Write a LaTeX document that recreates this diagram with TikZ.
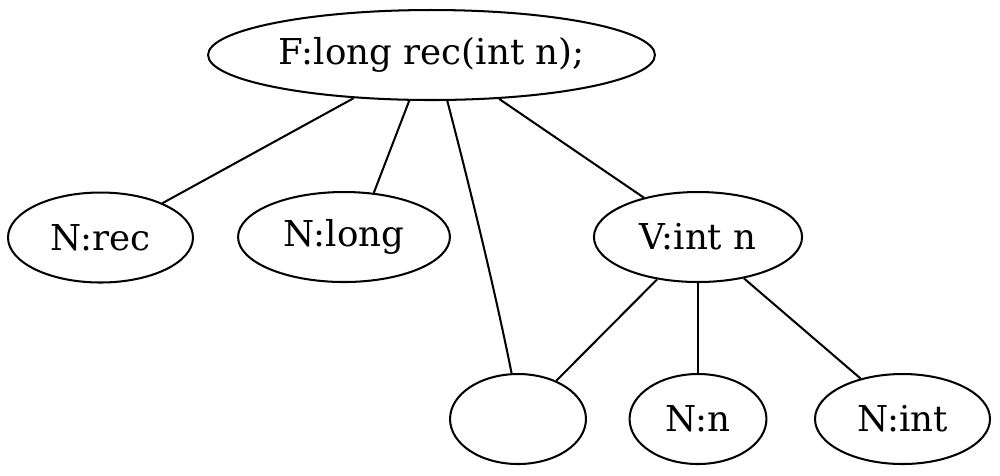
\documentclass[tikz,border=0pt]{standalone}
\usepackage{fontspec}
\setmainfont{DejaVu Serif}
\usepackage{tikz}
\usetikzlibrary{shapes.geometric}

\begin{document}
\begin{tikzpicture}[x=0.32pt, y=-0.32pt,
    tnode/.style={ellipse, draw, line width=0.65pt, inner sep=0pt, minimum height=28.8pt,
      font=\fontsize{11.4}{13}\selectfont},
    tedge/.style={line width=0.65pt}]
  \useasboundingbox (0,0) rectangle (1000,475);

  % Top node
  \node[tnode, minimum width=143pt] (func) at (431.5,55) {F:long rec(int n);};

  % Second row
  \node[tnode, minimum width=59.2pt] (nrec) at (100.5,237.5) {N:rec};
  \node[tnode, minimum width=67.8pt] (nlong) at (344,237) {N:long};
  \node[tnode, minimum width=66.6pt] (vint) at (698,237) {V:int n};

  % Bottom row
  \node[tnode, minimum width=43.5pt] (empty) at (518,419) {};
  \node[tnode, minimum width=43.8pt] (nn) at (698,419) {N:n};
  \node[tnode, minimum width=56pt] (nint) at (902.5,419) {N:int};

  % Edges from the top node
  \draw[tedge] (func.209.8) -- (nrec.29.6);
  \draw[tedge] (func.244.5) -- (nlong.56.7);
  \draw[tedge] (func.289) .. controls (468,180) and (495,290) .. (empty.98.7);
  \draw[tedge] (func.327.3) -- (vint.144.5);

  % Edges from V:int n
  \draw[tedge] (vint.226.4) -- (empty.45);
  \draw[tedge] (vint.270) -- (nn.90);
  \draw[tedge] (vint.318.9) -- (nint.136);
\end{tikzpicture}
\end{document}
